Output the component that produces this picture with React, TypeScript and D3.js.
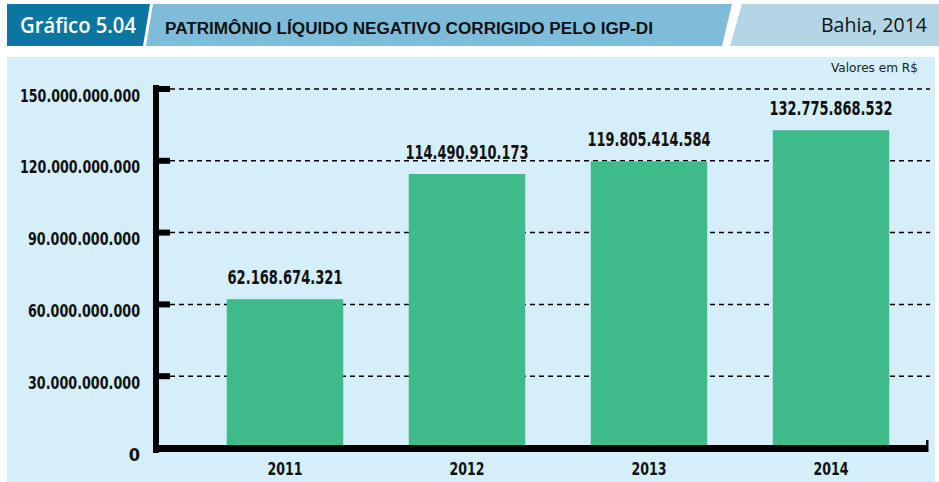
import React from "react";
import * as d3 from "d3";

const years = ["2011", "2012", "2013", "2014"];
const values = [62168674321, 114490910173, 119805414584, 132775868532];
const valueLabels = ["62.168.674.321", "114.490.910.173", "119.805.414.584", "132.775.868.532"];
const yTicks = [0, 30e9, 60e9, 90e9, 120e9, 150e9];
const yTickLabels = ["0", "30.000.000.000", "60.000.000.000", "90.000.000.000", "120.000.000.000", "150.000.000.000"];

const W = 939;
const H = 482;
const COND = "'DejaVu Sans Condensed', 'DejaVu Sans', sans-serif";

export default function App() {
  const y = d3.scaleLinear().domain([0, 150e9]).range([448, 89]);
  const x = d3.scaleBand<string>().domain(years).range([194, 922]).paddingInner(0.36).paddingOuter(0.18);
  const tickLabelW = (s: string) => (s.length === 15 ? 120 : s.length === 14 ? 112 : undefined);

  return (
    <svg width={W} height={H} style={{ position: "absolute", left: 0, top: 0 }}>
      <rect x={0} y={0} width={W} height={H} fill="#ffffff" />
      {/* header */}
      <polygon points="7,4 150,4 143,46 7,46" fill="#0b76a0" />
      <polygon points="153,4 732,4 722,46 146,46" fill="#7fbcda" />
      <polygon points="742,4 939,4 939,46 730,46" fill="#b4d5e6" />
      <text x={20} y={33} fill="#ffffff" fontFamily="'Open Sans', sans-serif" fontWeight={600} fontSize={22} textLength={116} lengthAdjust="spacingAndGlyphs">Gráfico 5.04</text>
      <text x={165} y={34} fill="#111" fontFamily="'Liberation Sans', Arial, sans-serif" fontWeight={700} fontSize={16} textLength={488} lengthAdjust="spacingAndGlyphs">PATRIMÔNIO LÍQUIDO NEGATIVO CORRIGIDO PELO IGP-DI</text>
      <text x={927} y={32} textAnchor="end" fill="#111" fontFamily="'Open Sans', sans-serif" fontSize={20} textLength={106} lengthAdjust="spacingAndGlyphs">Bahia, 2014</text>

      {/* plot background */}
      <rect x={7} y={57} width={928} height={H - 57} fill="#d4eefa" />
      <text x={918} y={72} textAnchor="end" fill="#222" fontFamily={COND} fontSize={13} textLength={87} lengthAdjust="spacingAndGlyphs">Valores em R$</text>

      {/* grid */}
      {yTicks.slice(1).map((t) => (
        <line key={t} x1={170} x2={930} y1={y(t)} y2={y(t)} stroke="#000" strokeWidth={1.5} strokeDasharray="5,4" />
      ))}

      {/* bars */}
      {years.map((yr, i) => (
        <rect key={yr} x={x(yr)} y={y(values[i])} width={x.bandwidth()} height={y(0) - y(values[i])} fill="#3fba8a" />
      ))}

      {/* value labels */}
      {years.map((yr, i) => (
        <text key={yr} x={(x(yr) as number) + x.bandwidth() / 2} y={y(values[i]) - 15} textAnchor="middle" fill="#111" fontFamily={COND} fontWeight={700} fontSize={19} textLength={valueLabels[i].length === 15 ? 123 : 115} lengthAdjust="spacingAndGlyphs">{valueLabels[i]}</text>
      ))}

      {/* axes */}
      <rect x={153} y={85} width={6} height={368} fill="#000" />
      <rect x={153} y={445} width={775} height={7} fill="#000" />
      <rect x={926} y={440} width={2.5} height={12} fill="#000" />
      {yTicks.slice(1).map((t) => (
        <rect key={t} x={153} y={y(t) - 3} width={17} height={6} fill="#000" />
      ))}

      {/* y tick labels */}
      {yTicks.map((t, i) => (
        <text key={t} x={140} y={y(t) + 12.5} textAnchor="end" fill="#111" fontFamily={COND} fontWeight={700} fontSize={18} textLength={tickLabelW(yTickLabels[i])} lengthAdjust="spacingAndGlyphs">{yTickLabels[i]}</text>
      ))}

      {/* x labels */}
      {years.map((yr) => (
        <text key={yr} x={(x(yr) as number) + x.bandwidth() / 2} y={475} textAnchor="middle" fill="#111" fontFamily={COND} fontWeight={700} fontSize={18} textLength={35} lengthAdjust="spacingAndGlyphs">{yr}</text>
      ))}
    </svg>
  );
}
